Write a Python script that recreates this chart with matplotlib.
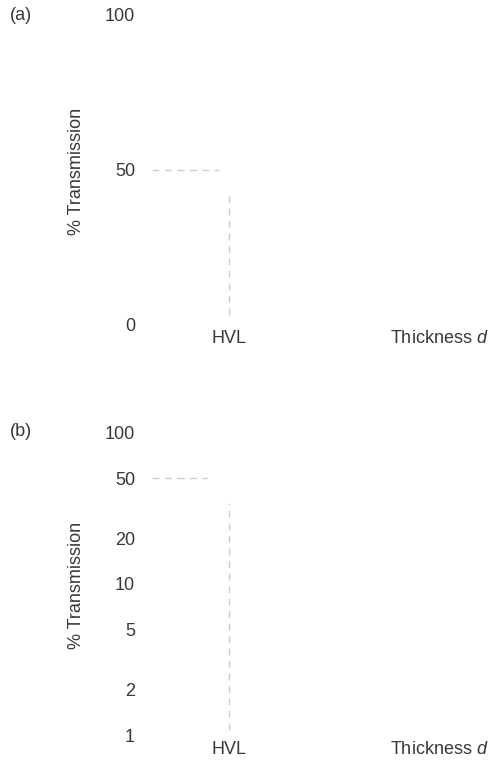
import matplotlib
matplotlib.use('Agg')
import matplotlib.pyplot as plt

plt.rcParams['font.family'] = ['Liberation Sans', 'DejaVu Sans']
plt.rcParams['mathtext.fontset'] = 'custom'
plt.rcParams['mathtext.it'] = 'Liberation Sans:italic'
plt.rcParams['mathtext.rm'] = 'Liberation Sans'

# tick values
ticks_a = [0, 50, 100]
ticks_b = [1, 2, 5, 10, 20, 50, 100]
hvl = 1.0
half = 50

# guide lines (thickness, % transmission)
hx_a = [0.08, 0.88]
vy_a = [3.2, 42.6]
hx_b = [0.08, 0.74]
vy_b = [1.08, 34.4]

txt = '#383838'
grid = '#cdcdcd'
fs = 13

fig = plt.figure(figsize=(4.96, 7.6), dpi=100)
W, H = 496., 760.

def panel(bottom_px, top_px):
    ax = fig.add_axes([145/W, 1-bottom_px/H, 1-145/W, (bottom_px-top_px)/H])
    for s in ax.spines.values():
        s.set_visible(False)
    ax.tick_params(length=0, labelsize=fs, labelcolor=txt)
    ax.tick_params(axis='y', pad=7.2)
    ax.set_xlim(0, 351/84.)
    ax.set_xticks([hvl])
    ax.set_xticklabels(['HVL'])
    ax.set_ylabel('% Transmission', fontsize=fs, color=txt)
    ax.yaxis.set_label_coords(-0.171, 0.494)
    ax.set_facecolor('none')
    return ax

# (a) linear
ax1 = panel(325, 15)
ax1.set_ylim(0, 100)
ax1.set_yticks(ticks_a)
ax1.set_yticklabels([str(t) for t in ticks_a])
ax1.tick_params(axis='x', pad=3.6)
ax1.plot(hx_a, [half, half], color=grid, lw=1.0, dashes=(5, 4))
ax1.plot([hvl, hvl], vy_a, color=grid, lw=1.0, dashes=(5, 4))
ax1.annotate('Thickness $d$', xy=(2.92, 0), xycoords=('data', 'axes fraction'),
             xytext=(0, -3.6), textcoords='offset points', va='top', ha='left',
             fontsize=fs, color=txt, annotation_clip=False)

# (b) log
ax2 = panel(735, 433)
ax2.set_yscale('log')
ax2.set_ylim(1, 100)
ax2.set_yticks(ticks_b)
ax2.set_yticklabels([str(t) for t in ticks_b])
ax2.yaxis.set_minor_locator(matplotlib.ticker.NullLocator())
ax2.tick_params(axis='x', pad=4.3)
ax2.plot(hx_b, [half, half], color=grid, lw=1.0, dashes=(5, 4))
ax2.plot([hvl, hvl], vy_b, color=grid, lw=1.0, dashes=(5, 4))
ax2.annotate('Thickness $d$', xy=(2.92, 0), xycoords=('data', 'axes fraction'),
             xytext=(0, -4.3), textcoords='offset points', va='top', ha='left',
             fontsize=fs, color=txt, annotation_clip=False)

fig.text(10/W, 1-15/H, '(a)', fontsize=fs, color=txt, va='center', ha='left')
fig.text(10/W, 1-432/H, '(b)', fontsize=fs, color=txt, va='center', ha='left')

fig.savefig('out.png', dpi=100)
